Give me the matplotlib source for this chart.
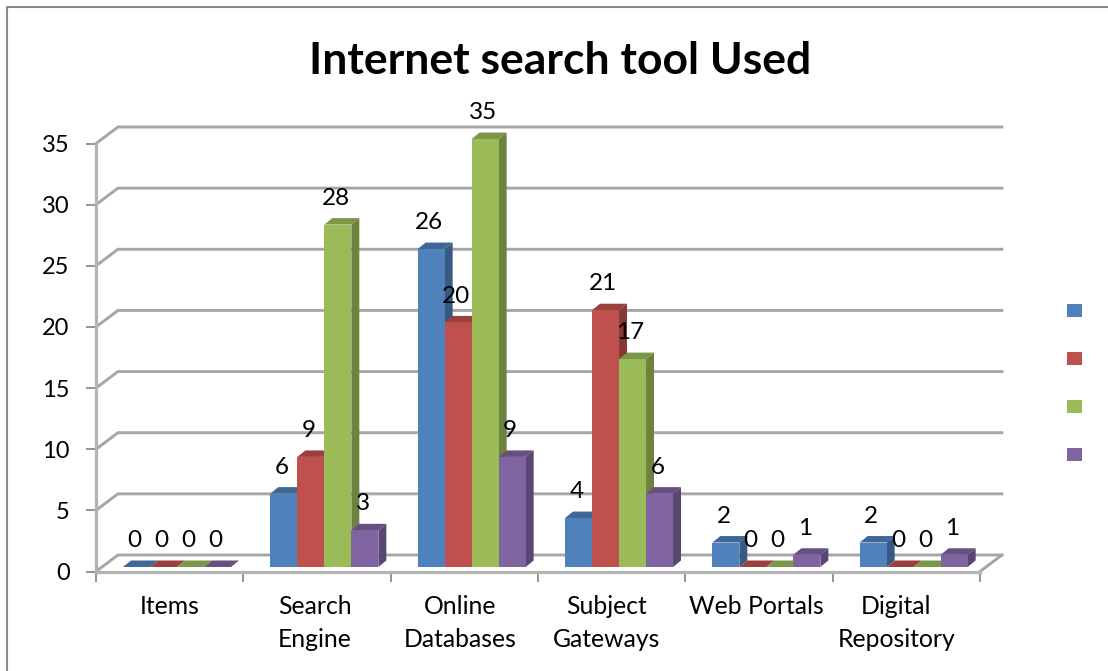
import matplotlib
matplotlib.use("Agg")
from matplotlib import pyplot as plt
from matplotlib.patches import Patch, Polygon, Rectangle

plt.rcParams['font.family'] = ['Lato', 'DejaVu Sans']

categories = ["Items", "Search\nEngine", "Online\nDatabases", "Subject\nGateways", "Web Portals", "Digital\nRepository"]
series_a = [0, 6, 26, 4, 2, 2]
series_b = [0, 9, 20, 21, 0, 0]
series_c = [0, 28, 35, 17, 0, 0]
series_d = [0, 3, 9, 6, 1, 1]
y_ticks = [0, 5, 10, 15, 20, 25, 30, 35]

fronts = ["#4F81BD", "#C0504D", "#9BBB59", "#8064A2"]
sides = ["#375A85", "#873835", "#6C833F", "#5A4672"]
tops = ["#3F6797", "#9A403E", "#7C9647", "#665082"]

W, H = 1108, 671
GREY = "#a6a6a6"

# wall and bar depth, in data units
wall_dx, wall_dy = 0.149, 1.35
bar_w = 0.1833
bar_dx, bar_dy = 0.054, 0.53
base_dx, base_dy = 0.05, 0.37

# category labels sit a little left of the slot centres
label_shift = [0, -0.014, -0.03, -0.034, -0.017, -0.068]

fig = plt.figure(figsize=(W / 100, H / 100), dpi=100)
ax = fig.add_axes([96 / W, (H - 571.5) / H, 884 / W, 428 / H])
ax.set_xlim(0, len(categories))
ax.set_ylim(0, 35)

for s in ["top", "right"]:
    ax.spines[s].set_visible(False)
for s in ["left", "bottom"]:
    ax.spines[s].set_color("#b4b4b4")
    ax.spines[s].set_linewidth(2.3)

ax.set_yticks(y_ticks)
ax.set_xticks(range(len(categories) + 1))
ax.set_xticklabels([])
ax.set_xticks([i + 0.5 + label_shift[i] for i in range(len(categories))], minor=True)
ax.set_xticklabels(categories, minor=True, linespacing=1.54)
ax.tick_params(axis="y", length=7, width=1.3, color="#8c8c8c", labelsize=17, pad=12, labelcolor="black")
ax.tick_params(axis="x", which="major", length=7, width=1.3, color="#8c8c8c")
ax.tick_params(axis="x", which="minor", length=0, labelsize=17.8, pad=17, labelcolor="black")

# back wall gridlines with their diagonal returns
for t in y_ticks:
    ax.plot([0, wall_dx, len(categories) + wall_dx], [t, t + wall_dy, t + wall_dy],
            color=GREY, lw=2.1, clip_on=False, zorder=1, solid_joinstyle="miter")
ax.plot([len(categories), len(categories) + wall_dx], [0, wall_dy], color=GREY, lw=2.1, clip_on=False, zorder=1)


def draw_bar(x, v, i):
    y = base_dy
    ax.add_patch(Polygon([(x, y + v), (x + bar_dx, y + v + bar_dy), (x + bar_w + bar_dx, y + v + bar_dy), (x + bar_w, y + v)],
                         fc=tops[i], ec="none", clip_on=False, zorder=3))
    ax.add_patch(Polygon([(x + bar_w, y), (x + bar_w + bar_dx, y + bar_dy), (x + bar_w + bar_dx, y + v + bar_dy), (x + bar_w, y + v)],
                         fc=sides[i], ec="none", clip_on=False, zorder=3))
    ax.add_patch(Rectangle((x, y), bar_w, v, fc=fronts[i], ec="none", clip_on=False, zorder=3))


all_series = [series_a, series_b, series_c, series_d]
for c in range(len(categories)):
    for i, vals in enumerate(all_series):
        x = c + 0.5 + base_dx - 2 * bar_w + i * bar_w
        draw_bar(x, vals[c], i)
        ax.annotate(str(vals[c]), (x + bar_w / 2, vals[c] + base_dy), xytext=(-1.5, 19), textcoords="offset points",
                    ha="center", va="center", fontsize=17.5, color="black", zorder=5, annotation_clip=False)

fig.text(560 / W, 1 - 61 / H, "Internet search tool Used", ha="center", va="center", fontsize=32, fontweight="bold")

# legend swatches, the series have no names
handles = [Patch(fc=c, ec="none") for c in fronts]
fig.legend(handles, ["", "", "", ""], loc="center left", bbox_to_anchor=(1060 / W, 1 - 382.5 / H),
           frameon=False, handlelength=1.08, handleheight=1.08, fontsize=10, labelspacing=2.5, borderpad=0, handletextpad=0)

# outer chart border, open on the right and at the bottom
fig.add_artist(plt.Line2D([7 / W, 7 / W, 1108 / W], [0, 1 - 7 / H, 1 - 7 / H],
                          color="#8a8a8a", lw=1.5))

fig.savefig("out.png", dpi=100)
